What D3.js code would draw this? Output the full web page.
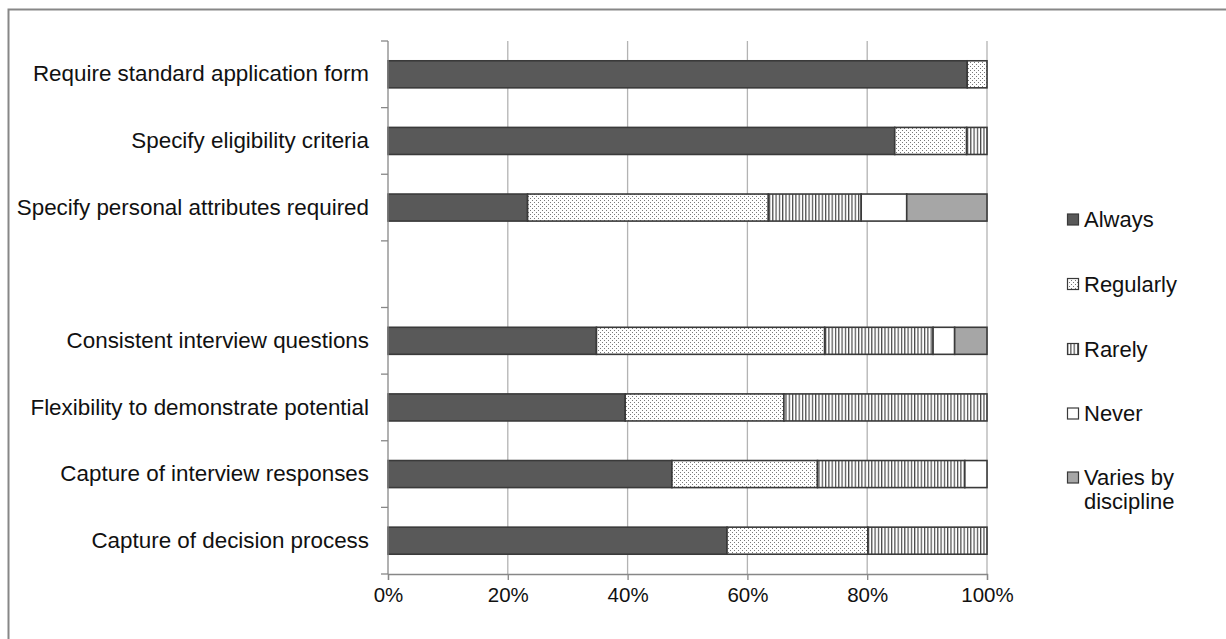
<!DOCTYPE html>
<html>
<head>
<meta charset="utf-8">
<script src="https://cdn.jsdelivr.net/npm/d3@7/dist/d3.min.js"></script>
<style>
  html, body { margin: 0; padding: 0; background: #fff; }
  svg { display: block; font-family: "Liberation Sans", Arial, sans-serif; }
</style>
</head>
<body>
<svg id="chart" width="1226" height="639"></svg>
<script>
// ---- data ----
const categories = [
  "Require standard application form",
  "Specify eligibility criteria",
  "Specify personal attributes required",
  "",
  "Consistent interview questions",
  "Flexibility to demonstrate potential",
  "Capture of interview responses",
  "Capture of decision process"
];
const seriesNames = ["Always", "Regularly", "Rarely", "Never", "Varies by discipline"];
const always    = [0.967, 0.846, 0.233, 0, 0.348, 0.396, 0.474, 0.566];
const regularly = [0.033, 0.120, 0.402, 0, 0.381, 0.265, 0.243, 0.235];
const rarely    = [0,     0.034, 0.155, 0, 0.181, 0.339, 0.246, 0.199];
const never     = [0,     0,     0.076, 0, 0.036, 0,     0.037, 0];
const varies    = [0,     0,     0.134, 0, 0.054, 0,     0,     0];
const xTicks = [0, 0.2, 0.4, 0.6, 0.8, 1.0];

(function () {
const svg = d3.select("#chart");
const defs = svg.append("defs");

const dots = defs.append("pattern").attr("id", "dots")
  .attr("patternUnits", "userSpaceOnUse").attr("width", 4).attr("height", 4);
dots.append("rect").attr("width", 4).attr("height", 4).attr("fill", "#fff");
dots.append("rect").attr("x", 0).attr("y", 0).attr("width", 1).attr("height", 1).attr("fill", "#7a7a7a");
dots.append("rect").attr("x", 2).attr("y", 2).attr("width", 1).attr("height", 1).attr("fill", "#7a7a7a");

const stripes = defs.append("pattern").attr("id", "stripes")
  .attr("patternUnits", "userSpaceOnUse").attr("width", 3.3).attr("height", 4);
stripes.append("rect").attr("width", 3.3).attr("height", 4).attr("fill", "#fff");
stripes.append("rect").attr("x", 0).attr("width", 1.2).attr("height", 4).attr("fill", "#4a4a4a");

const fills = ["#595959", "url(#dots)", "url(#stripes)", "#ffffff", "#a6a6a6"];
const seriesValues = [always, regularly, rarely, never, varies];

// frame
svg.append("path").attr("d", "M8.5,639 V9.5 H1226")
  .attr("fill", "none").attr("stroke", "#878787").attr("stroke-width", 2);

const pLeft = 388, pRight = 987, pTop = 41, pBottom = 574;
const x = d3.scaleLinear().domain([0, 1]).range([pLeft, pRight]);
const y = d3.scaleBand().domain(categories.map((c, i) => i)).range([pTop, pBottom])
  .paddingInner(0.594).paddingOuter(0.297);

// gridlines
svg.append("g").selectAll("line").data(xTicks.slice(1)).join("line")
  .attr("x1", d => x(d)).attr("x2", d => x(d))
  .attr("y1", pTop).attr("y2", pBottom)
  .attr("stroke", "#b3b3b3").attr("stroke-width", 1.3);

// stacked data
const rows = categories.map((c, i) => {
  let acc = 0;
  return seriesValues.map((arr, s) => {
    const v = arr[i];
    const seg = { i, s, x0: acc, x1: acc + v };
    acc += v;
    return seg;
  }).filter(d => d.x1 - d.x0 > 0);
});

svg.append("g").selectAll("rect").data(rows.flat()).join("rect")
  .attr("x", d => x(d.x0)).attr("width", d => x(d.x1) - x(d.x0))
  .attr("y", d => y(d.i)).attr("height", y.bandwidth())
  .attr("fill", d => fills[d.s])
  .attr("stroke", "#3a3a3a").attr("stroke-width", 1.6);

// y axis: line + boundary ticks
const step = y.step();
const boundaries = categories.map((c, i) => y(i) - (step - y.bandwidth()) / 2).concat([pBottom]);
const yAxisG = svg.append("g");
yAxisG.append("line").attr("x1", pLeft).attr("x2", pLeft).attr("y1", pTop).attr("y2", pBottom)
  .attr("stroke", "#878787").attr("stroke-width", 1.3);
yAxisG.selectAll("line.tk").data(boundaries).join("line").attr("class", "tk")
  .attr("x1", pLeft - 7).attr("x2", pLeft).attr("y1", d => d).attr("y2", d => d)
  .attr("stroke", "#878787").attr("stroke-width", 1.3);

// y labels via axis
const yAx = svg.append("g").attr("transform", `translate(${pLeft},0)`)
  .call(d3.axisLeft(y).tickSize(0).tickPadding(19).tickFormat(i => categories[i]));
yAx.select(".domain").remove();
yAx.selectAll("text").attr("font-size", 22.4).attr("fill", "#111")
  .attr("font-family", "'Liberation Sans', Arial, sans-serif");

// x axis
const xAx = svg.append("g").attr("transform", `translate(0,${pBottom})`)
  .call(d3.axisBottom(x).tickValues(xTicks).tickFormat(d3.format(".0%")).tickSize(6).tickPadding(7));
xAx.select(".domain").attr("stroke", "#878787").attr("stroke-width", 1.3);
xAx.selectAll(".tick line").attr("stroke", "#878787").attr("stroke-width", 1.3);
xAx.selectAll("text").attr("font-size", 20.5).attr("fill", "#111")
  .attr("font-family", "'Liberation Sans', Arial, sans-serif");

// legend
const legendY = [219.5, 284, 349, 413.5, 477.5];
const lg = svg.append("g");
seriesNames.forEach((name, s) => {
  const g = lg.append("g").attr("transform", `translate(1067,${legendY[s]})`);
  g.append("rect").attr("x", 0.5).attr("y", -5.5).attr("width", 11).attr("height", 11)
    .attr("fill", fills[s]).attr("stroke", "#3a3a3a").attr("stroke-width", 1.2);
  const t = g.append("text").attr("x", 17).attr("y", 0).attr("dy", "0.35em")
    .attr("font-size", 22).attr("fill", "#111");
  if (name === "Varies by discipline") {
    t.append("tspan").attr("x", 17).text("Varies by");
    t.append("tspan").attr("x", 17).attr("dy", "1.1em").text("discipline");
  } else {
    t.text(name);
  }
});
})();
</script>
</body>
</html>
